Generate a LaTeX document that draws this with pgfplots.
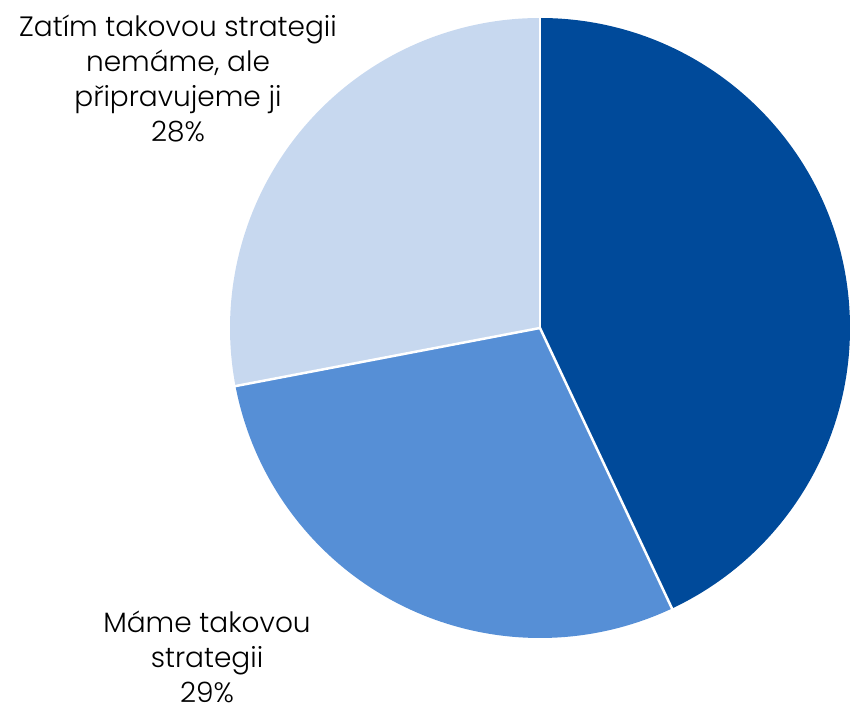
\documentclass[border=0pt]{standalone}
\usepackage{pgfplots}
\pgfplotsset{compat=1.18}
\usepackage{pgfplotstable}
\usepackage{fontspec}
\setmainfont{Poppins Light}
\definecolor{cA}{HTML}{004A9A}
\definecolor{cB}{HTML}{568FD6}
\definecolor{cC}{HTML}{C7D8EF}
\pgfplotstableread{
label value
A 43
B 29
C 28
}\datatable
\begin{document}
\begin{tikzpicture}
\pgfplotstablegetelem{0}{value}\of\datatable \let\va\pgfplotsretval
\pgfplotstablegetelem{1}{value}\of\datatable \let\vb\pgfplotsretval
\pgfplotstablegetelem{2}{value}\of\datatable \let\vc\pgfplotsretval
\pgfmathsetmacro{\aA}{90}
\pgfmathsetmacro{\aB}{90-3.6*\va}
\pgfmathsetmacro{\aC}{\aB-3.6*\vb}
\pgfmathsetmacro{\aD}{\aC-3.6*\vc}
\begin{axis}[hide axis, scale only axis, width=850pt, height=715pt,
  xmin=0, xmax=850, ymin=0, ymax=715, clip=false, anchor=south west, at={(0,0)}]
\fill[cA] (axis cs:540,387) -- ++(\aA:310pt) arc[start angle=\aA, end angle=\aB, radius=310pt] -- cycle;
\fill[cB] (axis cs:540,387) -- ++(\aB:310pt) arc[start angle=\aB, end angle=\aC, radius=310pt] -- cycle;
\fill[cC] (axis cs:540,387) -- ++(\aC:310pt) arc[start angle=\aC, end angle=\aD, radius=310pt] -- cycle;
\draw[white, line width=2.5pt] (axis cs:540,387) -- ++(\aA:311pt);
\draw[white, line width=2.5pt] (axis cs:540,387) -- ++(\aB:311pt);
\draw[white, line width=2.5pt] (axis cs:540,387) -- ++(\aC:311pt);
\node[align=center, inner sep=0pt, font=\fontsize{28}{35}\selectfont] at (axis cs:178,636) {Zatím takovou strategii\\nemáme, ale\\připravujeme ji\\28\%};
\node[align=center, inner sep=0pt, font=\fontsize{28}{35}\selectfont] at (axis cs:207,58) {Máme takovou\\strategii\\29\%};
\end{axis}
\pgfresetboundingbox
\path[use as bounding box] (0,0) rectangle (850pt,715pt);
\end{tikzpicture}
\end{document}
